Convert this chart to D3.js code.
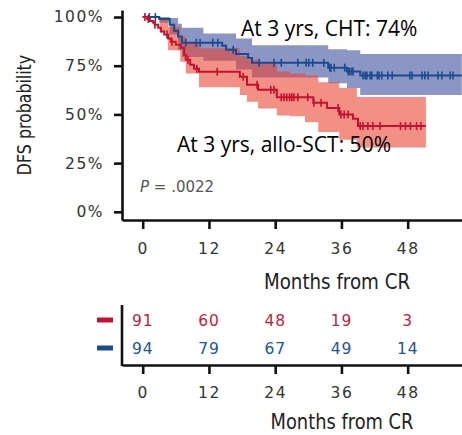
<!DOCTYPE html>
<html>
<head>
<meta charset="utf-8">
<script src="https://cdn.jsdelivr.net/npm/d3@7"></script>
<style>
  html, body { margin: 0; padding: 0; background: #fff; }
  svg { display: block; }
  .tick text { font-family: "DejaVu Sans", sans-serif; font-size: 15.5px; fill: #333; letter-spacing: 1.5px; }
  .cond { font-family: "DejaVu Sans", sans-serif; fill: #222; }
  .note { font-family: "Open Sans", "Noto Sans", sans-serif; font-size: 21px; fill: #000; }
</style>
</head>
<body>
<svg id="chart" width="462" height="435"></svg>
<script>
// ---- Kaplan–Meier estimates, DFS by treatment arm ----
// CHT arm (blue)
const chtTimes = [0, 3.0, 4.9, 5.7, 6.4, 7.1, 14.4, 15.1, 16.9, 19.1, 19.8, 33.6, 37.0, 39.4];
const chtSurv  = [1.0, 0.99, 0.96, 0.93, 0.90, 0.868, 0.852, 0.832, 0.81, 0.79, 0.765, 0.74, 0.72, 0.70];
const chtEnd = 57.8;
const chtBandTimes = [0, 3.0, 4.9, 6.4, 7.1, 11.0, 16.9, 19.8, 33.6, 37.0, 39.4];
const chtUpper = [1.0, 1.0, 0.995, 0.965, 0.945, 0.915, 0.89, 0.855, 0.835, 0.83, 0.81];
const chtLower = [1.0, 0.97, 0.91, 0.83, 0.795, 0.775, 0.73, 0.69, 0.66, 0.635, 0.60];
const chtCensor = [1.2, 2.3, 7.8, 9.7, 10.4, 12.7, 13.6, 16.4, 21.1, 23.8, 25.1, 28.1, 29.6, 30.1, 30.8,
  32.8, 33.9, 34.1, 34.7, 36.6, 37.2, 37.5, 37.9, 38.1, 39.9, 40.3, 40.6, 41.2, 41.5, 42.5, 42.8,
  43.3, 44.4, 45.2, 48.4, 48.8, 50.6, 51.1, 51.7, 53.5, 54.2, 55.7, 56.2];

// allo-SCT arm (red)
const sctTimes = [0, 0.8, 1.3, 1.9, 2.2, 2.8, 3.3, 3.9, 4.6, 5.1, 6.0, 6.9, 7.5, 7.8, 8.6, 9.3, 10.2,
  17.6, 18.9, 20.9, 24.3, 30.9, 33.4, 35.6, 38.1, 39.0];
const sctSurv  = [1.0, 0.99, 0.98, 0.97, 0.96, 0.945, 0.925, 0.91, 0.89, 0.873, 0.857, 0.842, 0.806, 0.78,
  0.755, 0.735, 0.719, 0.693, 0.652, 0.626, 0.588, 0.56, 0.533, 0.50, 0.478, 0.44];
const sctEnd = 51.3;
const sctBandTimes = [0, 3.1, 4.6, 6.8, 7.8, 10.2, 17.6, 18.9, 20.9, 24.3, 26.7, 29.4, 31.8, 35.6, 38.8];
const sctUpper = [1.0, 0.985, 0.95, 0.90, 0.87, 0.84, 0.80, 0.78, 0.765, 0.72, 0.71, 0.70, 0.665, 0.635, 0.59];
const sctLower = [1.0, 0.92, 0.83, 0.77, 0.71, 0.64, 0.60, 0.565, 0.53, 0.495, 0.49, 0.46, 0.41, 0.37, 0.33];
const sctCensor = [0.4, 1.0, 2.2, 4.4, 5.3, 8.2, 9.8, 13.5, 18.2, 20.7, 23.2, 23.8, 25.1, 25.6, 26.1,
  26.6, 27.0, 27.4, 28.1, 29.9, 31.0, 32.3, 35.4, 35.9, 36.5, 37.2, 39.4, 39.9, 40.8, 41.7, 43.0,
  46.7, 47.6, 48.5, 49.6, 50.4];

// ---- axes and risk table ----
const xTicks = [0, 12, 24, 36, 48];
const yTicks = [0, 0.25, 0.5, 0.75, 1.0];
const riskTimes = [0, 12, 24, 36, 48];
const sctAtRisk = [91, 60, 48, 19, 3];
const chtAtRisk = [94, 79, 67, 49, 14];

const armLabelCht = "At 3 yrs, CHT: 74%";
const armLabelSct = "At 3 yrs, allo-SCT: 50%";
const pText = ".0022";

const RED = "#c8102e", BLUE = "#1b4b8f";
const RED_BAND = "#e8402f", BLUE_BAND = "#2c3f95";

const svg = d3.select("#chart");

const x = d3.scaleLinear().domain([-3.75, 57.84]).range([122, 462]);
const y = d3.scaleLinear().domain([-0.042, 1.036]).range([220, 10]);

// step helper
function stepAt(times, vals, t) {
  let v = vals[0];
  for (let i = 0; i < times.length; i++) if (times[i] <= t) v = vals[i];
  return v;
}
function curvePts(times, vals, end) {
  const pts = times.map((t, i) => ({ t, v: vals[i] }));
  pts.push({ t: end, v: vals[vals.length - 1] });
  return pts;
}
function bandPts(times, up, lo, end) {
  const pts = times.map((t, i) => ({ t, u: up[i], l: lo[i] }));
  pts.push({ t: end, u: up[up.length - 1], l: lo[lo.length - 1] });
  return pts;
}

const area = d3.area().curve(d3.curveStepAfter)
  .x(d => x(d.t)).y0(d => y(d.l)).y1(d => y(d.u));
const line = d3.line().curve(d3.curveStepAfter)
  .x(d => x(d.t)).y(d => y(d.v));

const plot = svg.append("g");

// confidence bands
plot.append("path").datum(bandPts(chtBandTimes, chtUpper, chtLower, chtEnd))
  .attr("d", area).attr("fill", BLUE_BAND).attr("fill-opacity", 0.55);
plot.append("path").datum(bandPts(sctBandTimes, sctUpper, sctLower, sctEnd))
  .attr("d", area).attr("fill", RED_BAND).attr("fill-opacity", 0.58);

// survival curves with censor marks
function drawArm(times, surv, end, censor, color) {
  plot.append("path").datum(curvePts(times, surv, end))
    .attr("d", line).attr("fill", "none").attr("stroke", color).attr("stroke-width", 2);
  plot.append("g").selectAll("line").data(censor).join("line")
    .attr("x1", d => x(d)).attr("x2", d => x(d))
    .attr("y1", d => y(stepAt(times, surv, d)) - 4)
    .attr("y2", d => y(stepAt(times, surv, d)) + 4)
    .attr("stroke", color).attr("stroke-width", 1.6);
}
drawArm(chtTimes, chtSurv, chtEnd, chtCensor, BLUE);
drawArm(sctTimes, sctSurv, sctEnd, sctCensor, RED);

// y axis
const yAxis = svg.append("g").attr("transform", "translate(122,0)")
  .call(d3.axisLeft(y).tickValues(yTicks).tickFormat(d3.format(".0%")).tickSize(8).tickSizeOuter(0).tickPadding(10));
// x axis
const xAxis = svg.append("g").attr("transform", "translate(0,220)")
  .call(d3.axisBottom(x).tickValues(xTicks).tickSize(9).tickSizeOuter(0).tickPadding(14));
[yAxis, xAxis].forEach(g => {
  g.select(".domain").attr("stroke", "#111").attr("stroke-width", 2.6);
  g.selectAll(".tick line").attr("stroke", "#111").attr("stroke-width", 2.6);
});

// condensed axis titles
function condTitle(tx, ty, rot, size, sx, label) {
  svg.append("text").attr("class", "cond")
    .attr("transform", `translate(${tx},${ty}) rotate(${rot}) scale(${sx},1)`)
    .attr("text-anchor", "middle").attr("font-size", size).text(label);
}
condTitle(31, 115, -90, 20, 0.79, "DFS probability");
condTitle(337, 289, 0, 22, 0.83, "Months from CR");

// p-value
const pt = svg.append("text").attr("x", 140).attr("y", 192)
  .attr("font-family", "DejaVu Sans, sans-serif").attr("font-size", 15).attr("fill", "#555");
pt.append("tspan").attr("font-style", "italic").text("P");
pt.append("tspan").text(" = " + pText);

// arm annotations
svg.append("text").attr("class", "note").attr("x", 241).attr("y", 36).text(armLabelCht);
svg.append("text").attr("class", "note").attr("x", 177).attr("y", 152).text(armLabelSct);

// ---- number at risk ----
const rows = d3.scalePoint().domain(["sct", "cht"]).range([320, 348]);
const riskData = [
  { key: "sct", vals: sctAtRisk, color: "#c41e3a" },
  { key: "cht", vals: chtAtRisk, color: "#24548f" }
];
const rt = svg.append("g");
riskData.forEach(r => {
  rt.selectAll(null).data(r.vals).join("text")
    .attr("x", (d, i) => x(riskTimes[i])).attr("y", rows(r.key))
    .attr("dy", "0.36em").attr("text-anchor", "middle")
    .attr("font-family", "DejaVu Sans, sans-serif").attr("font-size", 15.5)
    .attr("letter-spacing", 0.8).attr("fill", r.color).text(d => d);
  rt.append("line").attr("x1", 97).attr("x2", 113)
    .attr("y1", rows(r.key)).attr("y2", rows(r.key))
    .attr("stroke", r.key === "sct" ? RED : BLUE).attr("stroke-width", 5);
});
rt.append("line").attr("x1", 122).attr("x2", 122).attr("y1", 305).attr("y2", 366)
  .attr("stroke", "#111").attr("stroke-width", 2.6);
const xAxis2 = svg.append("g").attr("transform", "translate(0,365)")
  .call(d3.axisBottom(x).tickValues(xTicks).tickSize(9).tickSizeOuter(0).tickPadding(13));
xAxis2.select(".domain").attr("stroke", "#111").attr("stroke-width", 2.6);
xAxis2.selectAll(".tick line").attr("stroke", "#111").attr("stroke-width", 2.6);
condTitle(342, 429, 0, 21, 0.85, "Months from CR");
</script>
</body>
</html>
